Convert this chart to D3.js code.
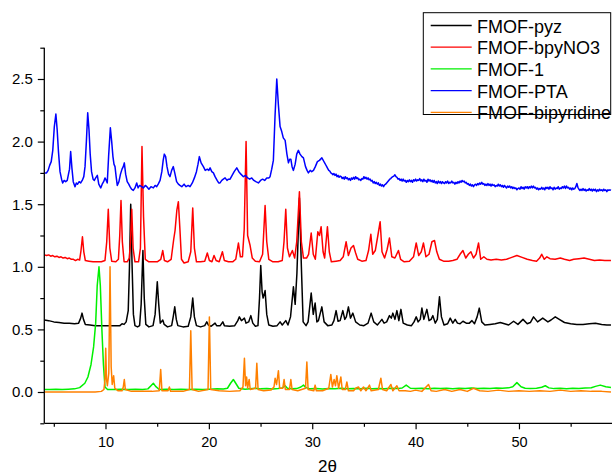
<!DOCTYPE html>
<html>
<head>
<meta charset="utf-8">
<script src="https://cdn.jsdelivr.net/npm/d3@7"></script>
<style>
  html, body { margin: 0; padding: 0; background: #fff; }
  svg { display: block; font-family: "Liberation Sans", Arial, sans-serif; }
</style>
</head>
<body>
<svg id="chart" width="613" height="476"></svg>
<script>
// Powder XRD patterns, [2θ, offset intensity]
const pyz = [
  [4.1,0.575],[4.5,0.57],[5.0,0.56],[5.5,0.555],[6.0,0.55],[6.5,0.55],[7.0,0.545],[7.4,0.55],[7.6,0.59],[7.73,0.63],[7.87,0.58],[8.05,0.54],
  [8.5,0.535],[9.0,0.53],[9.5,0.53],[10.0,0.53],[10.5,0.53],[11.0,0.53],[11.4,0.53],[11.6,0.545],[11.8,0.54],[12.0,0.56],[12.2,0.65],
  [12.32,1.0],[12.44,1.50],[12.56,1.05],[12.7,0.62],[12.85,0.53],[13.1,0.52],[13.3,0.53],[13.45,0.7],[13.62,1.13],[13.75,0.75],[13.9,0.54],
  [14.2,0.52],[14.6,0.53],[14.8,0.62],[15.01,0.88],[15.15,0.7],[15.3,0.55],[15.4,0.56],[15.54,0.575],[15.68,0.54],[16.0,0.52],[16.4,0.53],
  [16.55,0.6],[16.7,0.68],[16.85,0.58],[17.0,0.53],[17.5,0.52],[18.0,0.525],[18.25,0.6],[18.44,0.75],[18.6,0.6],[18.8,0.53],[19.2,0.52],
  [19.6,0.53],[19.8,0.56],[19.95,0.535],[20.2,0.525],[20.45,0.54],[20.6,0.55],[20.75,0.53],[21.1,0.53],[21.35,0.56],[21.5,0.53],[22.0,0.525],
  [22.5,0.53],[22.8,0.57],[22.95,0.60],[23.15,0.57],[23.3,0.58],[23.44,0.59],[23.6,0.55],[23.85,0.56],[24.06,0.61],[24.25,0.55],[24.5,0.525],
  [24.75,0.53],[24.9,0.75],[25.02,1.01],[25.15,0.80],[25.25,0.75],[25.44,0.81],[25.6,0.62],[25.8,0.535],[26.2,0.525],[26.6,0.53],[26.89,0.56],
  [27.1,0.535],[27.44,0.57],[27.65,0.535],[27.9,0.6],[28.18,0.84],[28.35,0.7],[28.52,0.95],[28.76,1.55],[28.95,1.0],[29.12,0.56],[29.4,0.53],
  [29.6,0.56],[29.9,0.79],[30.1,0.62],[30.28,0.71],[30.45,0.56],[30.6,0.57],[30.93,0.68],[31.15,0.56],[31.5,0.53],[31.9,0.535],[32.1,0.57],
  [32.31,0.65],[32.5,0.565],[32.7,0.57],[32.96,0.65],[33.15,0.58],[33.3,0.6],[33.5,0.68],[33.7,0.59],[33.93,0.63],[34.2,0.56],[34.6,0.535],
  [35.0,0.53],[35.4,0.55],[35.7,0.63],[35.95,0.56],[36.3,0.535],[36.55,0.56],[36.74,0.58],[36.95,0.55],[37.2,0.56],[37.47,0.61],[37.65,0.59],
  [37.8,0.63],[38.0,0.58],[38.19,0.65],[38.38,0.57],[38.58,0.66],[38.8,0.55],[39.2,0.535],[39.6,0.53],[39.85,0.56],[40.06,0.60],[40.25,0.56],
  [40.45,0.58],[40.61,0.67],[40.8,0.58],[41.09,0.66],[41.3,0.57],[41.5,0.58],[41.67,0.61],[41.9,0.55],[42.1,0.58],[42.31,0.76],[42.5,0.6],
  [42.75,0.535],[43.1,0.545],[43.35,0.59],[43.6,0.55],[43.83,0.58],[44.05,0.55],[44.3,0.545],[44.58,0.565],[44.9,0.55],[45.2,0.55],[45.45,0.57],
  [45.7,0.545],[45.95,0.6],[46.16,0.67],[46.4,0.56],[46.7,0.535],[47.2,0.54],[47.7,0.545],[48.19,0.555],[48.6,0.545],[49.0,0.535],[49.48,0.565],
  [49.9,0.54],[50.39,0.58],[50.8,0.545],[51.1,0.555],[51.41,0.60],[51.8,0.56],[52.3,0.59],[52.8,0.56],[53.1,0.575],[53.51,0.60],[53.9,0.58],
  [54.4,0.555],[55.0,0.545],[55.6,0.54],[56.2,0.54],[56.8,0.545],[57.4,0.55],[58.0,0.54],[58.5,0.535],[58.9,0.535]
];

const bpyNO3 = [
  [4.1,1.095],[4.3,1.09],[4.5,1.095],[4.7,1.085],[4.9,1.09],[5.1,1.08],[5.3,1.085],[5.5,1.075],[5.7,1.08],[5.9,1.07],[6.1,1.075],[6.3,1.065],
  [6.5,1.07],[6.7,1.06],[6.9,1.06],[7.1,1.05],[7.3,1.06],[7.5,1.055],[7.63,1.13],
  [7.77,1.24],[7.9,1.12],[8.05,1.05],[8.4,1.045],[8.8,1.04],[9.2,1.04],[9.6,1.04],[9.95,1.05],[10.12,1.2],[10.27,1.46],[10.42,1.15],[10.6,1.045],
  [11.0,1.04],[11.25,1.06],[11.38,1.25],[11.5,1.53],[11.63,1.2],[11.8,1.04],[12.1,1.04],[12.3,1.07],[12.42,1.2],[12.54,1.46],[12.67,1.15],
  [12.85,1.04],[13.2,1.04],[13.38,1.15],[13.53,1.96],[13.68,1.4],[13.85,1.06],[14.2,1.04],[14.6,1.04],[15.0,1.04],[15.35,1.06],[15.54,1.13],
  [15.7,1.05],[16.0,1.04],[16.35,1.06],[16.6,1.22],[16.73,1.29],[16.9,1.45],[17.05,1.52],[17.2,1.3],[17.35,1.06],[17.6,1.03],[18.0,1.04],
  [18.25,1.12],[18.44,1.47],[18.6,1.15],[18.8,1.04],[19.2,1.04],[19.6,1.045],[19.85,1.11],[20.05,1.05],[20.3,1.04],[20.5,1.09],[20.7,1.05],
  [21.0,1.04],[21.31,1.12],[21.5,1.05],[21.9,1.04],[22.3,1.04],[22.6,1.06],[22.86,1.19],[23.05,1.08],[23.25,1.08],[23.42,1.3],[23.6,2.0],
  [23.75,1.25],[23.99,1.17],[24.2,1.07],[24.5,1.045],[24.9,1.04],[25.2,1.1],[25.44,1.49],[25.6,1.2],[25.8,1.06],[26.2,1.04],[26.7,1.04],
  [27.1,1.05],[27.27,1.2],[27.44,1.46],[27.6,1.15],[27.8,1.08],[28.08,1.13],[28.3,1.07],[28.5,1.2],[28.76,1.60],[28.95,1.2],[29.15,1.07],
  [29.45,1.07],[29.65,1.1],[29.9,1.27],[30.1,1.1],[30.3,1.06],[30.54,1.28],[30.7,1.25],[30.86,1.32],[31.05,1.12],[31.2,1.07],[31.47,1.32],
  [31.65,1.12],[31.85,1.04],[32.3,1.045],[32.7,1.05],[33.0,1.08],[33.28,1.20],[33.5,1.09],[33.75,1.15],[33.99,1.17],[34.2,1.11],[34.4,1.06],
  [34.8,1.045],[35.2,1.05],[35.45,1.13],[35.67,1.26],[35.85,1.1],[36.1,1.13],[36.35,1.25],[36.57,1.36],[36.75,1.12],[37.0,1.07],[37.25,1.14],
  [37.47,1.23],[37.7,1.08],[38.0,1.07],[38.34,1.13],[38.55,1.06],[38.9,1.04],[39.4,1.045],[39.8,1.08],[40.06,1.19],[40.3,1.09],[40.55,1.12],
  [40.76,1.19],[41.0,1.08],[41.3,1.1],[41.58,1.20],[41.83,1.21],[42.05,1.12],[42.3,1.06],[42.7,1.045],[43.2,1.045],[43.6,1.05],[44.0,1.06],
  [44.3,1.1],[44.58,1.13],[44.85,1.07],[45.1,1.1],[45.35,1.12],[45.6,1.07],[45.85,1.1],[46.09,1.19],[46.3,1.06],[46.6,1.08],[46.9,1.06],
  [47.3,1.055],[47.8,1.06],[48.3,1.055],[48.8,1.06],[49.3,1.075],[49.8,1.09],[50.3,1.075],[50.8,1.06],[51.3,1.05],[51.7,1.045],[52.0,1.07],
  [52.2,1.10],[52.45,1.06],[52.7,1.08],[53.0,1.065],[53.5,1.06],[54.0,1.07],[54.4,1.06],[54.9,1.05],[55.3,1.06],[55.8,1.065],[56.3,1.07],
  [56.8,1.06],[57.3,1.05],[57.8,1.055],[58.3,1.05],[58.9,1.05]
];

const fmof1 = [
  [4.1,0.02],[4.6,0.02],[5.2,0.021],[5.8,0.02],[6.4,0.022],[7.0,0.025],[7.5,0.035],[8.0,0.07],[8.3,0.12],[8.6,0.22],[8.85,0.36],[9.05,0.55],
  [9.2,0.85],[9.37,1.0],[9.5,0.85],[9.65,0.5],[9.8,0.22],[9.95,0.04],[10.2,0.02],[10.8,0.02],[11.5,0.022],[12.2,0.02],[12.9,0.021],[13.6,0.02],
  [14.1,0.025],[14.4,0.05],[14.63,0.07],[14.85,0.045],[15.2,0.02],[15.9,0.022],[16.6,0.02],[17.3,0.021],[18.0,0.02],[18.7,0.022],[19.4,0.02],
  [20.1,0.022],[20.8,0.025],[21.4,0.024],[21.8,0.03],[22.1,0.07],[22.37,0.10],[22.6,0.07],[22.9,0.03],[23.5,0.022],[24.0,0.026],[24.5,0.03],
  [25.0,0.025],[25.6,0.027],[26.2,0.024],[26.7,0.028],[27.1,0.032],[27.38,0.05],[27.6,0.03],[28.0,0.026],[28.5,0.027],[28.9,0.04],[29.15,0.055],
  [29.4,0.035],[29.8,0.025],[30.4,0.027],[31.0,0.024],[31.6,0.028],[32.2,0.025],[32.8,0.03],[33.4,0.026],[34.0,0.028],[34.6,0.025],[35.2,0.029],
  [35.8,0.026],[36.4,0.028],[37.0,0.025],[37.6,0.029],[38.2,0.027],[38.7,0.032],[39.09,0.055],[39.5,0.03],[40.0,0.027],[40.6,0.03],[41.2,0.026],
  [41.8,0.03],[42.4,0.027],[43.0,0.03],[43.6,0.026],[44.2,0.03],[44.8,0.028],[45.4,0.031],[46.0,0.027],[46.6,0.03],[47.2,0.028],[47.8,0.032],
  [48.4,0.029],[49.0,0.033],[49.4,0.042],[49.8,0.075],[50.2,0.042],[50.6,0.03],[51.1,0.027],[51.7,0.03],[52.2,0.038],[52.55,0.05],[52.9,0.033],
  [53.4,0.027],[54.0,0.03],[54.6,0.026],[55.2,0.03],[55.8,0.027],[56.4,0.031],[57.0,0.034],[57.4,0.045],[57.87,0.055],[58.4,0.042],[58.9,0.036]
];

const pta = [
  [4.1,1.75],[4.3,1.75],[4.45,1.77],[4.6,1.81],[4.75,1.84],[4.9,1.93],[5.05,2.12],[5.2,2.22],[5.32,2.1],[5.45,1.92],[5.6,1.76],[5.75,1.70],
  [5.86,1.67],[6.0,1.69],[6.15,1.68],[6.3,1.69],[6.42,1.74],[6.52,1.78],[6.63,1.92],[6.75,1.79],[6.88,1.68],[7.05,1.64],[7.18,1.67],[7.3,1.66],
  [7.45,1.68],[7.6,1.67],[7.75,1.69],[7.9,1.72],[8.02,1.8],[8.15,2.0],[8.28,2.23],[8.4,2.1],[8.52,1.9],[8.65,1.76],[8.8,1.70],[8.92,1.69],
  [9.05,1.71],[9.21,1.73],[9.35,1.66],[9.54,1.63],[9.68,1.66],[9.82,1.68],[9.95,1.71],[10.07,1.69],[10.17,1.67],[10.3,1.88],[10.47,2.11],
  [10.6,2.0],[10.72,1.88],[10.82,1.82],[10.92,1.80],[11.03,1.72],[11.14,1.65],[11.3,1.68],[11.45,1.74],[11.6,1.78],[11.72,1.80],[11.82,1.83],
  [11.95,1.74],[12.1,1.68],[12.25,1.66],[12.37,1.64],[12.52,1.62],[12.69,1.61],[12.85,1.63],[13.02,1.67],[13.15,1.63],[13.3,1.65],[13.5,1.64],
  [13.66,1.63],[13.85,1.65],[14.0,1.64],[14.2,1.62],[14.4,1.64],[14.63,1.63],[14.8,1.65],[14.95,1.64],[15.1,1.66],[15.28,1.69],[15.45,1.76],
  [15.58,1.85],[15.69,1.90],[15.82,1.88],[15.95,1.80],[16.1,1.74],[16.24,1.72],[16.4,1.77],[16.56,1.80],[16.7,1.75],[16.88,1.68],[17.05,1.66],
  [17.2,1.65],[17.38,1.64],[17.6,1.66],[17.8,1.64],[18.0,1.65],[18.18,1.64],[18.4,1.67],[18.6,1.71],[18.8,1.76],[18.95,1.82],[19.08,1.88],
  [19.25,1.83],[19.47,1.80],[19.65,1.77],[19.85,1.78],[20.0,1.77],[20.12,1.79],[20.28,1.76],[20.44,1.75],[20.6,1.72],[20.8,1.69],[20.95,1.67],
  [21.08,1.67],[21.25,1.69],[21.4,1.70],[21.57,1.71],[21.75,1.69],[21.9,1.70],[22.05,1.70],[22.25,1.73],[22.45,1.76],[22.7,1.79],[22.9,1.76],
  [23.1,1.74],[23.34,1.72],[23.55,1.73],[23.75,1.71],[23.95,1.70],[24.15,1.71],[24.35,1.69],[24.55,1.68],[24.79,1.67],[25.0,1.69],[25.2,1.70],
  [25.4,1.69],[25.6,1.71],[25.8,1.71],[25.92,1.72],[26.08,1.78],[26.24,1.85],[26.4,2.2],[26.57,2.50],[26.72,2.3],[26.89,2.12],[27.05,2.08],
  [27.2,2.03],[27.38,2.01],[27.55,1.9],[27.7,1.83],[27.82,1.86],[27.93,1.86],[28.05,1.80],[28.18,1.77],[28.35,1.82],[28.5,1.90],[28.66,1.93],
  [28.82,1.90],[29.0,1.88],[29.15,1.87],[29.35,1.80],[29.5,1.77],[29.63,1.75],[29.8,1.77],[29.95,1.76],[30.12,1.77],[30.3,1.80],[30.5,1.84],
  [30.7,1.85],[30.93,1.87],
  [31.0,1.86],[31.1,1.845],[31.2,1.83],[31.3,1.815],[31.4,1.80],[31.5,1.785],[31.6,1.77],[31.7,1.765],[31.8,1.75],[31.9,1.745],[32.0,1.735],
  [32.1,1.745],[32.2,1.73],[32.3,1.74],[32.4,1.72],[32.5,1.73],[32.6,1.715],[32.7,1.725],[32.8,1.72],[32.9,1.705],[33.0,1.715],[33.1,1.70],
  [33.2,1.72],[33.3,1.705],[33.4,1.71],[33.5,1.695],[33.6,1.705],[33.7,1.69],[33.8,1.71],[33.9,1.70],[34.0,1.715],[34.1,1.70],[34.2,1.72],
  [34.3,1.705],[34.4,1.71],[34.5,1.695],[34.6,1.70],[34.7,1.69],[34.8,1.705],[34.9,1.70],[35.0,1.72],[35.1,1.705],[35.2,1.715],[35.3,1.70],
  [35.4,1.71],[35.5,1.695],[35.6,1.70],[35.7,1.685],[35.8,1.69],[35.9,1.67],[36.0,1.68],[36.1,1.665],[36.2,1.675],[36.3,1.66],[36.4,1.67],
  [36.5,1.65],[36.6,1.66],[36.7,1.645],[36.8,1.655],[36.9,1.64],[37.0,1.655],[37.1,1.66],[37.2,1.67],[37.3,1.68],[37.4,1.69],[37.5,1.70],
  [37.6,1.705],[37.7,1.715],[37.8,1.72],[37.9,1.725],[38.0,1.735],[38.1,1.72],[38.2,1.715],[38.3,1.70],[38.4,1.705],[38.5,1.69],[38.6,1.70],
  [38.7,1.685],[38.8,1.70],[38.9,1.685],[39.0,1.69],[39.1,1.675],[39.2,1.69],[39.3,1.68],[39.4,1.695],[39.5,1.68],[39.6,1.69],[39.7,1.675],
  [39.8,1.695],[39.9,1.685],[40.0,1.70],[40.1,1.685],[40.2,1.695],[40.3,1.69],[40.4,1.705],[40.5,1.685],[40.6,1.695],[40.7,1.68],[40.8,1.70],
  [40.9,1.685],[41.0,1.69],[41.1,1.675],[41.2,1.70],[41.3,1.685],[41.4,1.695],[41.5,1.68],[41.6,1.69],[41.7,1.675],[41.8,1.69],[41.9,1.67],
  [42.0,1.68],[42.1,1.665],[42.2,1.685],[42.3,1.67],[42.4,1.68],[42.5,1.665],[42.6,1.68],[42.7,1.67],[42.8,1.665],[42.9,1.68],[43.0,1.67],
  [43.1,1.685],[43.2,1.665],[43.3,1.675],[43.4,1.67],[43.5,1.685],[43.6,1.67],[43.7,1.675],[43.8,1.66],[43.9,1.675],[44.0,1.665],[44.1,1.68],
  [44.2,1.67],[44.3,1.685],[44.4,1.675],[44.5,1.69],[44.6,1.68],[44.7,1.685],[44.8,1.67],[44.9,1.675],[45.0,1.66],[45.1,1.665],[45.2,1.65],
  [45.3,1.66],[45.4,1.645],[45.5,1.655],[45.6,1.64],[45.7,1.655],[45.8,1.66],[45.9,1.65],[46.0,1.665],[46.1,1.655],[46.2,1.67],[46.3,1.66],
  [46.4,1.675],[46.5,1.66],[46.6,1.665],[46.7,1.65],[46.8,1.66],[46.9,1.65],[47.0,1.665],[47.1,1.65],[47.2,1.66],[47.3,1.645],[47.4,1.66],
  [47.5,1.65],[47.6,1.655],[47.7,1.64],[47.8,1.65],[47.9,1.645],[48.0,1.66],[48.1,1.645],[48.2,1.655],[48.3,1.64],[48.4,1.65],[48.5,1.635],
  [48.6,1.65],[48.7,1.64],[48.8,1.63],[48.9,1.645],[49.0,1.635],[49.1,1.645],[49.2,1.63],[49.3,1.64],[49.4,1.625],[49.5,1.635],[49.6,1.625],
  [49.7,1.63],[49.8,1.615],[49.9,1.625],[50.0,1.63],[50.1,1.62],[50.2,1.64],[50.3,1.625],[50.4,1.635],[50.5,1.62],[50.6,1.64],[50.7,1.63],
  [50.8,1.64],[50.9,1.625],[51.0,1.64],[51.1,1.63],[51.2,1.645],[51.3,1.63],[51.4,1.645],[51.5,1.63],[51.6,1.635],[51.7,1.62],[51.8,1.63],
  [51.9,1.615],[52.0,1.625],[52.1,1.62],[52.2,1.635],[52.3,1.62],[52.4,1.63],[52.5,1.615],[52.6,1.635],[52.7,1.625],[52.8,1.635],[52.9,1.62],
  [53.0,1.64],[53.1,1.625],[53.2,1.63],[53.3,1.615],[53.4,1.635],[53.5,1.62],[53.6,1.63],[53.7,1.625],[53.8,1.64],[53.9,1.62],[54.0,1.63],
  [54.1,1.625],[54.2,1.64],[54.3,1.63],[54.4,1.645],[54.5,1.625],[54.6,1.645],[54.7,1.63],[54.8,1.635],[54.9,1.62],[55.0,1.63],[55.1,1.615],
  [55.2,1.63],[55.3,1.62],[55.4,1.625],[55.5,1.64],[55.6,1.665],[55.7,1.635],[55.8,1.62],[55.9,1.61],[56.0,1.62],[56.1,1.61],[56.2,1.625],
  [56.3,1.61],[56.4,1.62],[56.5,1.605],[56.6,1.615],[56.7,1.61],[56.8,1.625],[56.9,1.61],[57.0,1.62],[57.1,1.605],[57.2,1.62],[57.3,1.61],
  [57.4,1.62],[57.5,1.60],[57.6,1.615],[57.7,1.605],[57.8,1.62],[57.9,1.61],[58.0,1.615],[58.1,1.605],[58.2,1.62],[58.3,1.61],[58.4,1.615],
  [58.5,1.60],[58.6,1.615],[58.7,1.61],[58.8,1.615],[58.9,1.61]
];

const bipyridine = [
  [4.1,0.0],[5.0,0.0],[6.0,0.0],[7.0,0.0],[8.0,0.0],[9.0,0.0],[9.6,0.005],[9.85,0.02],[9.95,0.1],[10.02,0.35],[10.1,0.1],[10.18,0.05],
  [10.32,0.15],[10.44,1.0],[10.55,0.2],[10.65,0.06],[10.79,0.13],[10.9,0.03],[11.2,0.01],[11.6,0.01],[11.72,0.04],[11.82,0.10],[11.92,0.02],
  [12.5,0.005],[13.5,0.005],[14.5,0.005],[15.2,0.01],[15.34,0.18],[15.46,0.01],[16.05,0.01],[16.18,0.04],[16.3,0.005],[17.5,0.005],[18.12,0.02],
  [18.25,0.49],[18.38,0.02],[19.0,0.005],[19.92,0.02],[20.05,0.60],[20.18,0.02],[21.0,0.01],[22.0,0.005],[23.0,0.01],[23.3,0.04],[23.44,0.27],
  [23.55,0.05],[23.65,0.12],[23.75,0.03],[23.9,0.10],[24.0,0.02],[24.52,0.03],[24.64,0.23],[24.76,0.02],[25.3,0.01],[26.0,0.015],[26.3,0.04],
  [26.41,0.11],[26.55,0.06],[26.73,0.17],[26.85,0.03],[27.15,0.03],[27.28,0.10],[27.4,0.02],[27.8,0.02],[27.93,0.10],[28.05,0.02],[28.6,0.01],
  [29.35,0.03],[29.48,0.24],[29.6,0.02],[30.15,0.01],[30.28,0.055],[30.4,0.01],[31.0,0.01],[31.6,0.03],[31.8,0.14],[31.95,0.04],[32.12,0.10],
  [32.25,0.05],[32.38,0.13],[32.55,0.03],[32.77,0.12],[32.9,0.02],[33.2,0.02],[33.35,0.08],[33.5,0.01],[34.0,0.01],[34.2,0.03],[34.47,0.04],
  [34.7,0.01],[34.96,0.04],[35.2,0.01],[35.54,0.055],[35.7,0.01],[36.4,0.02],[36.64,0.11],[36.8,0.02],[37.2,0.01],[37.61,0.06],[37.8,0.01],
  [38.19,0.05],[38.4,0.01],[39.0,0.01],[39.5,0.005],[40.0,0.015],[40.6,0.005],[41.25,0.06],[41.5,0.01],[42.0,0.005],[42.8,0.02],[43.5,0.005],
  [44.3,0.02],[45.0,0.005],[45.6,0.03],[46.2,0.01],[47.0,0.005],[48.0,0.015],[49.0,0.005],[50.0,0.01],[51.0,0.005],[52.0,0.01],[53.0,0.005],
  [54.0,0.015],[55.0,0.005],[56.0,0.01],[57.0,0.005],[58.0,0.005],[58.9,0.0]
];

const seriesNames = ["FMOF-pyz", "FMOF-bpyNO3", "FMOF-1", "FMOF-PTA", "FMOF-bipyridine"];
const seriesColors = ["#000000", "#ff0000", "#00f000", "#0000ff", "#ff8000"];
const seriesData = [pyz, bpyNO3, fmof1, pta, bipyridine];

const xMajorTicks = [10, 20, 30, 40, 50];
const xMinorTicks = [5, 15, 25, 35, 45, 55];
const yMajorTicks = [0, 0.5, 1.0, 1.5, 2.0, 2.5];
const yMinorTicks = [-0.25, 0.25, 0.75, 1.25, 1.75, 2.25, 2.75];

const svg = d3.select("#chart");
const plotLeft = 44.3, plotRight = 612, plotTop = 47.7, plotBottom = 423.3;

const x = d3.scaleLinear().domain([4.08, 59.0]).range([plotLeft, plotRight]);
const y = d3.scaleLinear().domain([-0.25, 2.75]).range([plotBottom, plotTop]);

// traces, drawn in legend order so later ones sit on top
const line = d3.line().x(d => x(d[0])).y(d => y(d[1]));
svg.append("g").selectAll("path")
  .data(seriesData)
  .join("path")
  .attr("d", line)
  .attr("fill", "none")
  .attr("stroke", (d, i) => seriesColors[i])
  .attr("stroke-width", 1.5)
  .attr("stroke-linejoin", "round");

// y axis
const yAxis = svg.append("g").attr("transform", `translate(${plotLeft},0)`)
  .call(d3.axisLeft(y).tickValues(yMajorTicks).tickFormat(d3.format(".1f")).tickSize(6.5).tickPadding(5));
yAxis.select(".domain").remove();
yAxis.selectAll("text").attr("font-size", 15).attr("font-family", "Liberation Sans, Arial, sans-serif").attr("fill", "#000");
yAxis.selectAll("line").attr("stroke-width", 1.2);
const yMinor = svg.append("g").attr("transform", `translate(${plotLeft},0)`)
  .call(d3.axisLeft(y).tickValues(yMinorTicks).tickFormat("").tickSize(4));
yMinor.select(".domain").remove();
yMinor.selectAll("line").attr("stroke-width", 1.2);

// x axis
const xAxis = svg.append("g").attr("transform", `translate(0,${plotBottom})`)
  .call(d3.axisBottom(x).tickValues(xMajorTicks).tickSize(6).tickPadding(7.5));
xAxis.select(".domain").remove();
xAxis.selectAll("text").attr("font-size", 14.5).attr("font-family", "Liberation Sans, Arial, sans-serif").attr("fill", "#000");
xAxis.selectAll("line").attr("stroke-width", 1.2);
const xMinor = svg.append("g").attr("transform", `translate(0,${plotBottom})`)
  .call(d3.axisBottom(x).tickValues(xMinorTicks).tickFormat("").tickSize(3.5));
xMinor.select(".domain").remove();
xMinor.selectAll("line").attr("stroke-width", 1.2);

// axis lines
svg.append("line").attr("x1", plotLeft).attr("x2", plotLeft).attr("y1", plotTop).attr("y2", plotBottom)
  .attr("stroke", "#000").attr("stroke-width", 1.3);
svg.append("line").attr("x1", plotLeft).attr("x2", plotRight).attr("y1", plotBottom).attr("y2", plotBottom)
  .attr("stroke", "#000").attr("stroke-width", 1.3);

// x axis title
svg.append("text").attr("x", 327.5).attr("y", 471.5).attr("text-anchor", "middle")
  .attr("font-size", 17).attr("fill", "#000").text("2θ");

// legend
const legend = svg.append("g");
legend.append("rect").attr("x", 423.3).attr("y", 12.7).attr("width", 187.4).attr("height", 101.8)
  .attr("fill", "#fff").attr("stroke", "#000").attr("stroke-width", 1);
seriesNames.forEach((name, i) => {
  const ly = 25.5 + i * 21.7;
  legend.append("line").attr("x1", 430.7).attr("x2", 471.7).attr("y1", ly).attr("y2", ly)
    .attr("stroke", seriesColors[i]).attr("stroke-width", 1.3);
  legend.append("text").attr("x", 477).attr("y", ly + 7).attr("font-size", 18)
    .attr("fill", "#000").text(name);
});
</script>
</body>
</html>
